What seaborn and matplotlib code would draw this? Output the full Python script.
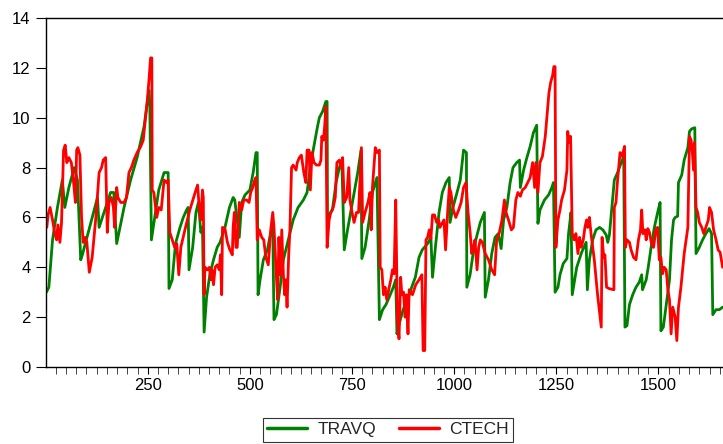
import matplotlib
matplotlib.use("Agg")
import matplotlib.pyplot as plt
import seaborn as sns
import pandas as pd
from matplotlib.ticker import MultipleLocator

travq_points = [
    (2, 3.0), (8, 3.2), (17, 5.1), (29, 6.4), (41, 7.5), (47, 6.4), (57, 7.2), (70, 8.0), (78, 7.5), (86, 4.3),
    (90, 4.5), (127, 6.8), (131, 5.6), (159, 7.0), (167, 7.0), (174, 4.95), (192, 6.4), (208, 7.5), (224, 8.4), (241, 9.65),
    (253, 11.1), (255, 10.6), (259, 5.1), (277, 7.1), (290, 7.8), (300, 7.8), (302, 3.15), (310, 3.5), (318, 4.95), (329, 5.6),
    (337, 6.0), (345, 6.3), (349, 6.4), (351, 3.9), (360, 4.8), (368, 6.2), (374, 6.6), (380, 5.4), (384, 5.6), (388, 1.4),
    (394, 2.8), (402, 3.7), (411, 4.3), (420, 4.8), (427, 5.0), (439, 5.6), (450, 6.4), (459, 6.8), (463, 6.7), (474, 5.2),
    (480, 6.6), (488, 6.9), (500, 7.1), (508, 7.8), (515, 8.6), (518, 8.6), (520, 2.9), (525, 3.5), (533, 4.3), (543, 4.7),
    (551, 5.4), (556, 5.6), (559, 1.9), (565, 2.1), (574, 3.2), (582, 4.3), (594, 5.1), (606, 5.9), (618, 6.4), (631, 6.7),
    (640, 7.0), (647, 7.9), (655, 8.7), (665, 9.6), (670, 10.0), (678, 10.25), (686, 10.65), (689, 10.65), (690, 6.0), (702, 6.3),
    (711, 7.4), (719, 8.0), (725, 8.3), (731, 4.7), (739, 5.5), (751, 6.6), (764, 7.8), (772, 8.7), (774, 4.35), (782, 4.8),
    (792, 5.9), (800, 7.0), (811, 7.6), (817, 1.9), (825, 2.3), (833, 2.5), (841, 2.8), (851, 3.2), (857, 3.5), (860, 1.33),
    (865, 1.7), (875, 2.3), (886, 2.7), (896, 3.2), (905, 3.6), (914, 4.4), (922, 4.7), (935, 4.95), (943, 5.2), (947, 3.6),
    (955, 4.95), (963, 6.2), (971, 7.0), (980, 7.4), (988, 7.6), (990, 5.8), (997, 6.4), (1007, 7.0), (1015, 7.5), (1023, 8.7),
    (1030, 8.6), (1031, 3.2), (1039, 3.7), (1045, 4.4), (1053, 5.1), (1064, 5.8), (1074, 6.2), (1076, 2.8), (1084, 3.5), (1092, 4.55),
    (1100, 5.2), (1108, 5.35), (1115, 4.75), (1121, 5.9), (1129, 6.4), (1137, 7.4), (1144, 8.0), (1153, 8.2), (1160, 8.3), (1162, 7.2),
    (1170, 7.9), (1178, 8.4), (1186, 8.85), (1194, 9.4), (1202, 9.7), (1205, 5.76), (1210, 6.3), (1221, 6.7), (1231, 6.9), (1239, 7.2),
    (1243, 7.4), (1247, 3.0), (1254, 3.2), (1259, 3.7), (1267, 4.15), (1276, 4.35), (1280, 5.35), (1286, 6.2), (1289, 2.9), (1300, 4.0),
    (1312, 4.6), (1323, 5.0), (1326, 3.1), (1331, 4.3), (1339, 5.1), (1347, 5.5), (1356, 5.6), (1364, 5.5), (1372, 5.3), (1376, 5.0),
    (1380, 5.3), (1386, 6.4), (1392, 7.5), (1400, 7.8), (1409, 8.2), (1415, 8.45), (1418, 1.6), (1423, 1.66), (1429, 2.5), (1437, 2.9),
    (1445, 3.2), (1453, 3.4), (1459, 3.7), (1461, 3.1), (1470, 3.5), (1475, 4.0), (1482, 4.8), (1490, 5.6), (1498, 6.2), (1504, 6.6),
    (1506, 1.45), (1512, 1.6), (1519, 2.5), (1527, 3.5), (1532, 5.1), (1537, 5.9), (1541, 6.0), (1547, 6.05), (1549, 7.4), (1557, 7.7),
    (1563, 8.3), (1572, 8.8), (1576, 9.45), (1581, 9.55), (1589, 9.6), (1592, 4.55), (1600, 4.8), (1608, 5.1), (1616, 5.35), (1624, 5.55),
    (1630, 5.35), (1633, 2.1), (1641, 2.3), (1649, 2.3), (1657, 2.4),
]

ctech_points = [
    (3, 5.6), (6, 6.1), (11, 6.4), (17, 5.9), (22, 5.4), (27, 5.1), (30, 5.7), (35, 5.0), (39, 5.8), (44, 8.7),
    (48, 8.9), (52, 8.2), (57, 8.4), (63, 8.2), (68, 7.5), (73, 6.6), (76, 8.7), (79, 8.8), (84, 8.5), (88, 6.0),
    (92, 5.0), (97, 5.2), (101, 5.0), (107, 3.8), (114, 4.4), (123, 6.0), (131, 7.8), (137, 8.0), (141, 8.3), (147, 8.4),
    (151, 5.4), (155, 6.6), (161, 6.8), (166, 6.4), (169, 5.6), (174, 7.2), (177, 6.8), (184, 6.6), (192, 6.6), (198, 6.8),
    (204, 7.8), (210, 8.0), (216, 8.3), (224, 8.6), (233, 8.85), (239, 9.1), (245, 10.05), (249, 10.7), (253, 11.5), (257, 12.4),
    (260, 12.4), (261, 7.1), (265, 7.0), (272, 6.0), (277, 6.4), (283, 6.3), (290, 7.5), (296, 7.4), (300, 7.5), (304, 5.4),
    (310, 5.1), (316, 4.8), (321, 4.95), (326, 3.7), (331, 4.8), (341, 5.5), (353, 6.3), (366, 7.0), (372, 7.3), (376, 6.4),
    (380, 5.9), (384, 7.1), (386, 6.8), (388, 2.9), (390, 4.0), (396, 3.9), (401, 4.0), (404, 3.5), (407, 3.9), (411, 3.3),
    (415, 4.0), (420, 4.1), (425, 3.9), (428, 4.5), (431, 2.9), (433, 5.6), (439, 5.55), (445, 5.0), (451, 4.7), (457, 4.5),
    (459, 5.6), (462, 6.2), (466, 4.8), (469, 4.8), (474, 6.6), (480, 6.3), (485, 6.7), (492, 6.7), (498, 6.6), (502, 7.0),
    (507, 7.2), (512, 7.5), (515, 7.6), (518, 5.1), (523, 5.5), (529, 5.2), (534, 5.1), (539, 4.4), (545, 4.1), (551, 5.5),
    (556, 6.2), (559, 5.6), (564, 3.9), (568, 2.7), (571, 5.2), (575, 3.7), (578, 5.5), (582, 3.7), (585, 2.9), (588, 3.5),
    (591, 2.4), (595, 4.5), (598, 5.5), (602, 8.0), (606, 8.1), (613, 7.9), (616, 8.2), (621, 8.4), (626, 8.5), (632, 7.8),
    (637, 7.4), (640, 8.7), (645, 8.7), (648, 7.1), (652, 8.6), (657, 8.2), (663, 8.1), (670, 8.1), (674, 8.3), (676, 9.25),
    (680, 9.1), (683, 9.65), (686, 10.45), (689, 4.8), (694, 5.9), (698, 6.2), (704, 6.4), (709, 6.8), (713, 8.2), (719, 8.3),
    (723, 8.0), (727, 8.4), (731, 6.6), (737, 6.8), (742, 8.0), (745, 6.7), (750, 6.2), (755, 5.8), (761, 6.2), (766, 6.2),
    (773, 8.8), (776, 5.8), (782, 6.2), (789, 6.6), (794, 7.0), (797, 5.5), (800, 7.2), (807, 8.8), (812, 8.6), (817, 8.7),
    (819, 4.0), (823, 3.9), (827, 2.9), (831, 3.2), (835, 2.7), (841, 3.2), (845, 3.5), (849, 3.9), (853, 3.74), (857, 6.7),
    (861, 2.0), (865, 1.13), (869, 3.6), (872, 2.9), (876, 3.0), (880, 2.0), (883, 2.9), (887, 1.33), (890, 3.1), (898, 2.9),
    (906, 3.3), (914, 3.5), (921, 3.7), (924, 0.66), (928, 0.66), (931, 5.1), (935, 5.2), (939, 5.5), (943, 5.15), (947, 6.1),
    (952, 6.1), (957, 5.8), (962, 5.9), (965, 5.6), (970, 5.75), (975, 5.9), (979, 4.7), (984, 6.2), (988, 7.2), (992, 7.0),
    (998, 6.3), (1004, 6.0), (1011, 6.3), (1017, 6.6), (1023, 7.2), (1029, 7.4), (1034, 6.2), (1039, 5.4), (1043, 4.55), (1047, 4.8),
    (1051, 5.1), (1056, 3.9), (1060, 4.8), (1064, 5.1), (1069, 5.0), (1076, 4.55), (1084, 4.3), (1092, 3.9), (1099, 3.7), (1104, 5.1),
    (1110, 5.35), (1117, 5.9), (1123, 6.7), (1127, 6.2), (1133, 5.9), (1140, 5.5), (1145, 5.6), (1151, 6.7), (1156, 7.0), (1162, 6.85),
    (1167, 7.1), (1174, 7.2), (1180, 7.4), (1186, 7.6), (1192, 8.2), (1197, 7.2), (1200, 8.2), (1205, 7.0), (1210, 8.2), (1216, 8.45),
    (1223, 9.25), (1228, 10.2), (1232, 11.0), (1236, 11.4), (1241, 11.7), (1244, 12.05), (1247, 12.05), (1249, 4.8), (1254, 5.9), (1259, 6.3),
    (1263, 6.7), (1270, 7.1), (1276, 7.9), (1278, 9.45), (1281, 9.0), (1285, 9.25), (1289, 5.35), (1294, 5.1), (1298, 5.35), (1303, 4.55),
    (1307, 5.2), (1311, 4.8), (1316, 5.1), (1320, 5.6), (1324, 5.9), (1327, 5.6), (1331, 6.0), (1335, 5.35), (1343, 4.3), (1351, 2.9),
    (1360, 1.6), (1362, 5.2), (1366, 4.4), (1369, 4.5), (1373, 3.2), (1380, 3.14), (1391, 3.1), (1392, 6.4), (1396, 6.6), (1400, 7.5),
    (1406, 8.6), (1411, 8.45), (1417, 8.85), (1419, 4.8), (1423, 5.1), (1429, 5.0), (1433, 4.7), (1439, 4.4), (1445, 4.3), (1451, 5.1),
    (1456, 5.5), (1459, 6.3), (1462, 5.35), (1467, 5.5), (1470, 5.1), (1474, 5.55), (1478, 5.4), (1483, 4.95), (1488, 4.8), (1494, 5.55),
    (1498, 5.6), (1502, 4.3), (1506, 4.4), (1510, 3.74), (1514, 4.0), (1519, 3.9), (1523, 3.1), (1527, 2.7), (1531, 1.33), (1535, 2.4),
    (1541, 2.0), (1545, 1.06), (1549, 2.4), (1555, 3.2), (1563, 4.55), (1572, 5.6), (1576, 9.25), (1580, 9.1), (1583, 8.6), (1586, 7.9),
    (1588, 9.0), (1592, 6.4), (1596, 6.2), (1600, 5.8), (1606, 5.6), (1611, 5.35), (1616, 5.6), (1622, 5.9), (1625, 6.4), (1630, 6.2),
    (1635, 5.5), (1641, 5.1), (1646, 4.7), (1651, 4.6), (1657, 4.0),
]

series_names = ["TRAVQ", "CTECH"]
series_colors = {"TRAVQ": "#008000", "CTECH": "#ff0000"}

frames = []
for name, pts in zip(series_names, [travq_points, ctech_points]):
    frames.append(pd.DataFrame({"obs": [p[0] for p in pts],
                                "value": [p[1] for p in pts],
                                "series": name}))
df = pd.concat(frames, ignore_index=True)

sns.set_style("ticks")
plt.rcParams["font.family"] = ["Liberation Sans", "DejaVu Sans"]

fig = plt.figure(figsize=(7.23, 4.44), dpi=100)
ax = fig.add_axes([46 / 723, 1 - 367 / 444, 1 - 46 / 723, (367 - 18) / 444])

sns.lineplot(data=df, x="obs", y="value", hue="series", palette=series_colors,
             estimator=None, sort=False, linewidth=2.0, ax=ax, legend=False)

ax.set_xlim(1, 1658)
ax.set_ylim(0, 14)
ax.set_xlabel("")
ax.set_ylabel("")
ax.xaxis.set_major_locator(MultipleLocator(250))
ax.xaxis.set_minor_locator(MultipleLocator(25))
ax.yaxis.set_major_locator(MultipleLocator(2))
ax.tick_params(axis="both", labelsize=12, colors="black", width=0.8, direction="out")
ax.tick_params(axis="x", which="both", length=5, pad=3)
ax.tick_params(axis="y", length=7, pad=4)
ax.set_xticks([250, 500, 750, 1000, 1250, 1500])

for side in ["left", "bottom", "top"]:
    ax.spines[side].set_visible(True)
    ax.spines[side].set_color("black")
    ax.spines[side].set_linewidth(1.0)
ax.spines["right"].set_visible(False)

# legend box below the plot, centred like the reference
handles = [plt.Line2D([], [], color=series_colors[n], linewidth=2.5) for n in series_names]
leg = ax.legend(handles, series_names, loc="center", bbox_to_anchor=(0.505, -0.18),
                ncol=2, fontsize=12.5, frameon=True, fancybox=False, edgecolor="black",
                handlelength=2.3, handletextpad=0.6, columnspacing=1.3, borderpad=0.25,
                borderaxespad=0)
leg.get_frame().set_linewidth(0.8)

fig.savefig("out.png", dpi=100)
